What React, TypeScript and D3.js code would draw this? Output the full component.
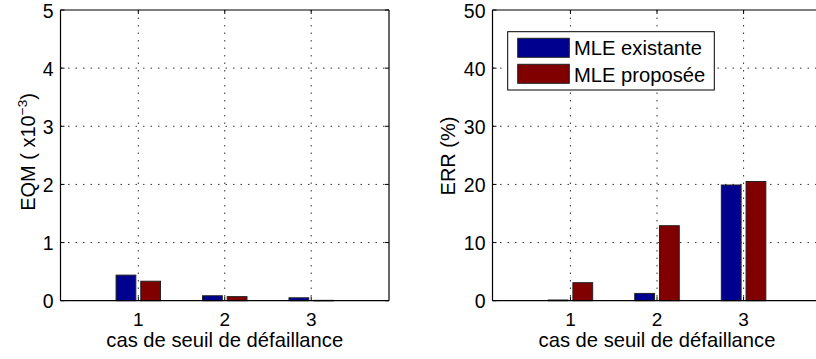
import React from "react";
import * as d3 from "d3";

const categories = [1, 2, 3];
const seriesNames = ["MLE existante", "MLE proposée"];
const eqmExistante = [0.44, 0.085, 0.05];
const eqmProposee = [0.335, 0.07, 0.006];
const errExistante = [0.12, 1.25, 19.9];
const errProposee = [3.1, 12.9, 20.5];
const eqmTicks = [0, 1, 2, 3, 4, 5];
const errTicks = [0, 10, 20, 30, 40, 50];
const xTickLabels = ["1", "2", "3"];

const colors = ["#00008f", "#800000"];
const FONT = "'Liberation Sans', Arial, Helvetica, sans-serif";

type PanelProps = {
  left: number;
  right: number;
  clipRight: number;
  yMax: number;
  yTicks: number[];
  data: number[][];
  yLabel: React.ReactNode;
  yLabelX: number;
  yLabelY: number;
  legend?: boolean;
};

const TOP = 10;
const BOTTOM = 300.7;

function Panel({ left, right, clipRight, yMax, yTicks, data, yLabel, yLabelX, yLabelY, legend }: PanelProps) {
  const x = d3.scaleLinear().domain([0.1, 3.9]).range([left, right]);
  const y = d3.scaleLinear().domain([0, yMax]).range([BOTTOM, TOP]);
  const offsets = d3
    .scaleBand<string>()
    .domain(seriesNames)
    .range([-0.2857, 0.2857])
    .paddingInner(0.2)
    .paddingOuter(0.1);
  const bw = x(offsets.bandwidth()) - x(0);
  const rEdge = Math.min(right, clipRight);
  const tickLen = 4;
  return (
    <g>
      {categories.map((c) => (
        <line key={"vg" + c} x1={x(c)} x2={x(c)} y1={TOP} y2={BOTTOM} stroke="#333" strokeWidth={1} strokeDasharray="1.5,6" />
      ))}
      {yTicks.slice(1, -1).map((t) => (
        <line key={"hg" + t} x1={left} x2={rEdge} y1={y(t)} y2={y(t)} stroke="#333" strokeWidth={1} strokeDasharray="1.5,6" />
      ))}
      {data.map((vals, si) =>
        vals.map((v, ci) => {
          const x0 = x(categories[ci] + (offsets(seriesNames[si]) as number));
          return (
            <rect
              key={`b${si}-${ci}`}
              x={x0}
              y={y(v)}
              width={bw}
              height={Math.max(0.5, y(0) - y(v))}
              fill={colors[si]}
              stroke="#222"
              strokeWidth={1}
            />
          );
        })
      )}
      <line x1={left} x2={rEdge} y1={TOP} y2={TOP} stroke="#000" strokeWidth={1.2} />
      <line x1={left} x2={rEdge} y1={BOTTOM} y2={BOTTOM} stroke="#000" strokeWidth={1.2} />
      <line x1={left} x2={left} y1={TOP} y2={BOTTOM} stroke="#000" strokeWidth={1.2} />
      {right <= clipRight && <line x1={right} x2={right} y1={TOP} y2={BOTTOM} stroke="#000" strokeWidth={1.2} />}
      {categories.map((c) => (
        <g key={"xt" + c}>
          <line x1={x(c)} x2={x(c)} y1={BOTTOM} y2={BOTTOM - tickLen} stroke="#000" />
          <line x1={x(c)} x2={x(c)} y1={TOP} y2={TOP + tickLen} stroke="#000" />
        </g>
      ))}
      {yTicks.map((t) => (
        <g key={"yt" + t}>
          <line x1={left} x2={left + tickLen} y1={y(t)} y2={y(t)} stroke="#000" />
          {right <= clipRight && <line x1={right} x2={right - tickLen} y1={y(t)} y2={y(t)} stroke="#000" />}
        </g>
      ))}
      {categories.map((c, i) => (
        <text key={"xl" + c} x={x(c)} y={325.5} textAnchor="middle" fontSize={19} fontFamily={FONT} fill="#000">
          {xTickLabels[i]}
        </text>
      ))}
      {yTicks.map((t) => (
        <text key={"yl" + t} x={left - 7} y={y(t) + 7.5} textAnchor="end" fontSize={19.5} fontFamily={FONT} fill="#000">
          {t}
        </text>
      ))}
      <text x={x(2)} y={346.5} textAnchor="middle" fontSize={20.2} fontFamily={FONT} fill="#000">
        cas de seuil de défaillance
      </text>
      <text transform={`translate(${yLabelX},${yLabelY}) rotate(-90)`} textAnchor="middle" fontSize={20} fontFamily={FONT} fill="#000">
        {yLabel}
      </text>
      {legend && (
        <g>
          <rect x={507.7} y={31.7} width={206.6} height={58.3} fill="#fff" stroke="#000" strokeWidth={1} />
          {seriesNames.map((s, i) => (
            <g key={"lg" + i}>
              <rect x={517.7} y={38.3 + i * 26} width={51.6} height={19} fill={colors[i]} stroke="#222" strokeWidth={1} />
              <text x={574} y={55 + i * 26.5} fontSize={20.2} fontFamily={FONT} fill="#000">
                {s}
              </text>
            </g>
          ))}
        </g>
      )}
    </g>
  );
}

export default function App() {
  return (
    <svg width={816} height={359} style={{ position: "absolute", left: 0, top: 0, background: "#fff" }}>
      <rect x={0} y={0} width={816} height={359} fill="#fff" />
      <Panel
        left={60.5}
        right={389}
        clipRight={816}
        yMax={5}
        yTicks={eqmTicks}
        data={[eqmExistante, eqmProposee]}
        yLabelX={34.5}
        yLabelY={152}
        yLabel={
          <>
            <tspan>EQM ( x10</tspan>
            <tspan fontSize={13.5} dy={-8}>−3</tspan>
            <tspan dy={8}>)</tspan>
          </>
        }
      />
      <Panel
        left={492.5}
        right={821.5}
        clipRight={816}
        yMax={50}
        yTicks={errTicks}
        data={[errExistante, errProposee]}
        yLabelX={454.5}
        yLabelY={156}
        yLabel="ERR (%)"
        legend
      />
    </svg>
  );
}
